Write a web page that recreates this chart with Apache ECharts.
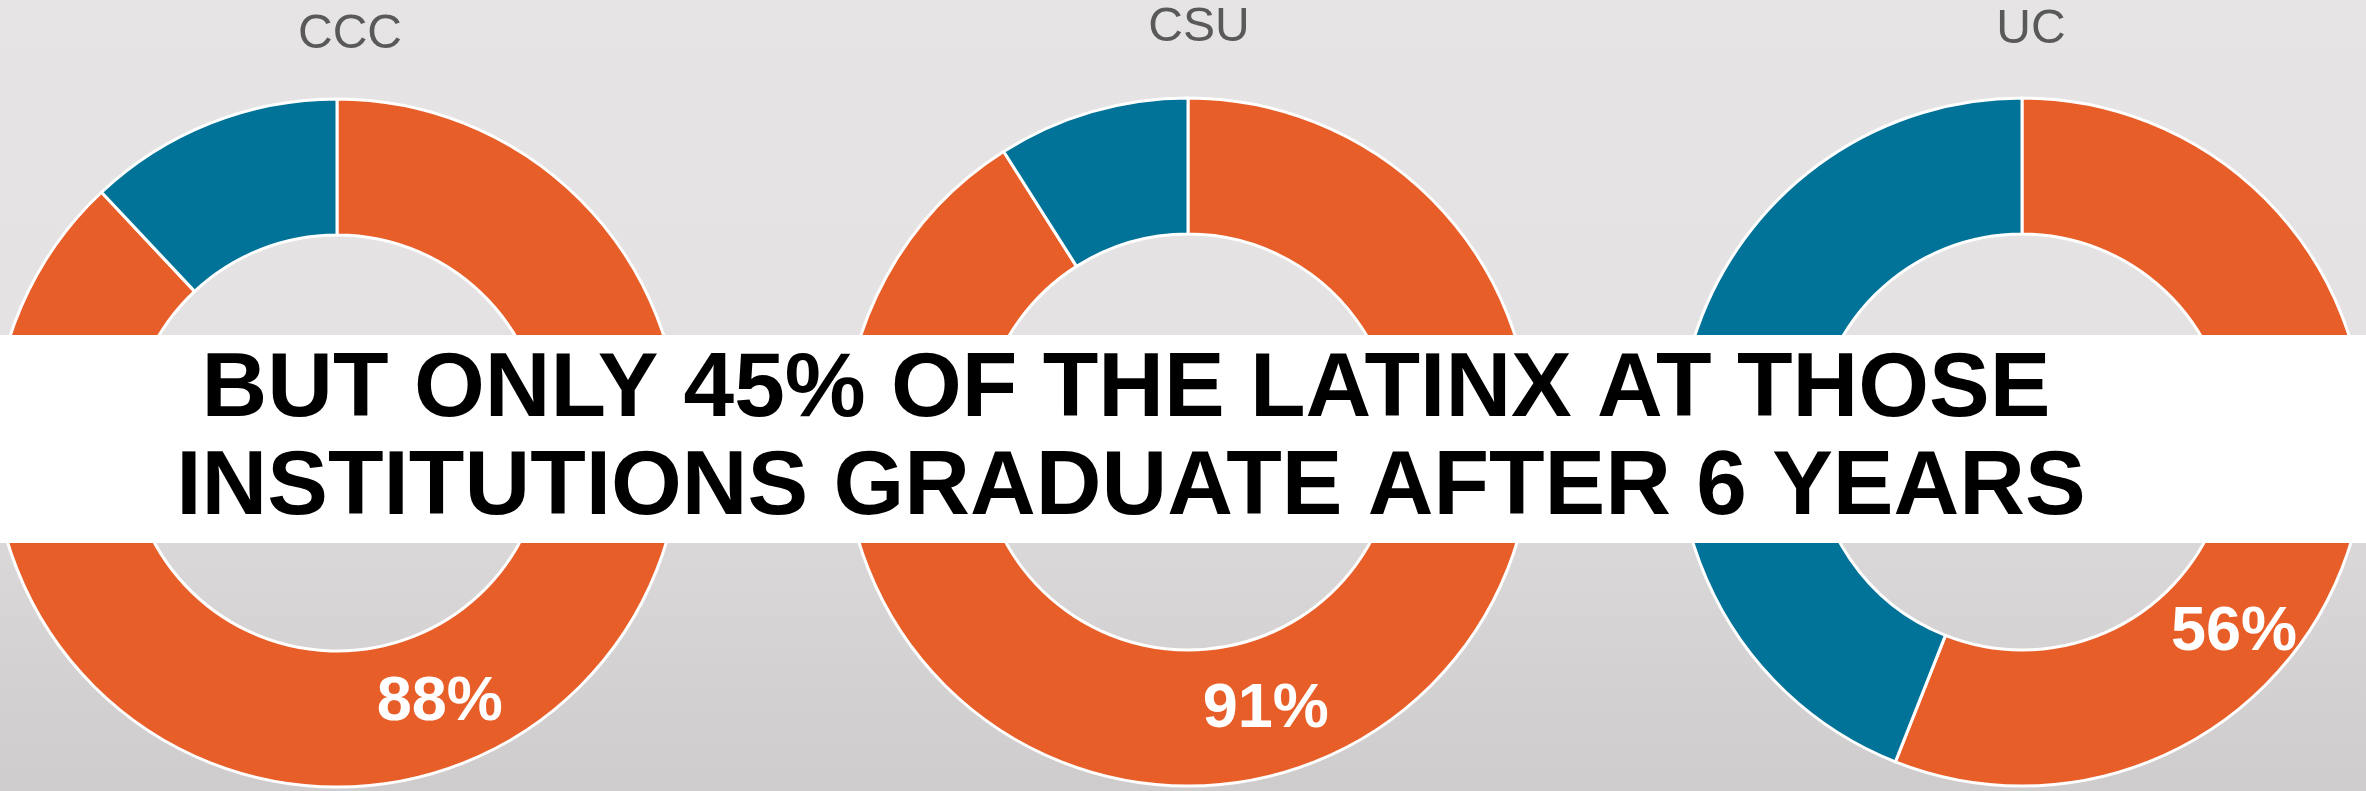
<!DOCTYPE html>
<html>
<head>
<meta charset="utf-8">
<script src="https://cdn.jsdelivr.net/npm/echarts@6/dist/echarts.min.js"></script>
<style>
html,body{margin:0;padding:0;width:2366px;height:791px;overflow:hidden;background:#e6e4e5}
#c{width:2366px;height:791px}
</style>
</head>
<body>
<div id="c"></div>
<script>
// ---- data ----
const institutions = ['CCC', 'CSU', 'UC'];
const graduatedPct = [88, 91, 56];
const otherPct = [12, 9, 44];
const segmentNames = ['Graduated', 'Not graduated'];
const bannerLines = [
  'BUT ONLY 45% OF THE LATINX AT THOSE',
  'INSTITUTIONS GRADUATE AFTER 6 YEARS'
];

// ---- layout / style ----
const FONT = '"Liberation Sans", Arial, sans-serif';
const ORANGE = '#e85e28';
const BLUE = '#017298';
const pieCenters = [[337, 443], [1188, 442], [2022, 442]];
const titleX = [345, 1194, 2026];
const titleTop = [6, -1, 1];
const labelShift = [{dx: 0, dy: 0}, {dx: 0, dy: 0}, {dx: -62, dy: 138}];

const chart = echarts.init(document.getElementById('c'), null, {renderer: 'canvas'});

const option = {
  animation: false,
  backgroundColor: {
    type: 'linear', x: 0, y: 0, x2: 0, y2: 1,
    colorStops: [
      {offset: 0, color: '#e6e4e5'},
      {offset: 0.4, color: '#e4e2e3'},
      {offset: 1, color: '#cecccd'}
    ]
  },
  title: institutions.map((name, i) => ({
    text: name,
    left: titleX[i],
    top: titleTop[i],
    textAlign: 'center',
    textStyle: {fontFamily: FONT, fontSize: 48, fontWeight: 'normal', color: '#595959'}
  })),
  series: institutions.map((name, i) => ({
    type: 'pie',
    name: name,
    center: pieCenters[i],
    radius: [208, 344],
    startAngle: 90,
    clockwise: true,
    silent: true,
    avoidLabelOverlap: false,
    itemStyle: {borderColor: '#ffffff', borderWidth: 3},
    label: {
      show: true,
      position: 'inside',
      formatter: '{c}%',
      color: '#ffffff',
      fontFamily: FONT,
      fontSize: 63,
      fontWeight: 'bold'
    },
    labelLine: {show: false},
    labelLayout: labelShift[i],
    data: [
      {name: segmentNames[0], value: graduatedPct[i], itemStyle: {color: ORANGE}},
      {name: segmentNames[1], value: otherPct[i], itemStyle: {color: BLUE}, label: {show: false}}
    ]
  })),
  graphic: [
    {
      type: 'rect', z: 100, left: 0, top: 335,
      shape: {width: 2366, height: 208},
      style: {fill: '#ffffff'}
    },
    {
      type: 'text', z: 101, x: 1126, y: 391,
      style: {text: bannerLines[0], fill: '#000', font: 'bold 91px ' + FONT, align: 'center', verticalAlign: 'middle'}
    },
    {
      type: 'text', z: 101, x: 1131, y: 489,
      style: {text: bannerLines[1], fill: '#000', font: 'bold 91px ' + FONT, align: 'center', verticalAlign: 'middle'}
    }
  ]
};
chart.setOption(option);
</script>
</body>
</html>
